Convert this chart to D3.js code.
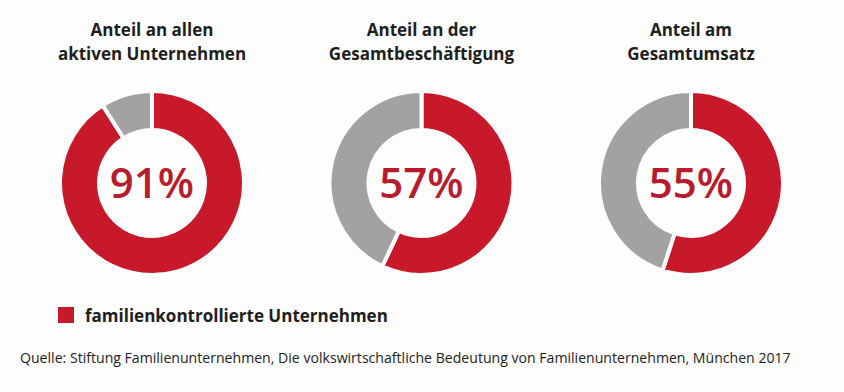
<!DOCTYPE html>
<html>
<head>
<meta charset="utf-8">
<script src="https://cdn.jsdelivr.net/npm/d3@7"></script>
<style>
  body { margin: 0; background: #fdfdfd; }
  svg { display: block; font-family: "Open Sans", "Noto Sans", sans-serif; }
</style>
</head>
<body>
<div id="chart"></div>
<script>
// data
const titles = [
  ['Anteil an allen', 'aktiven Unternehmen'],
  ['Anteil an der', 'Gesamtbeschäftigung'],
  ['Anteil am', 'Gesamtumsatz']
];
const familyShare = [91, 57, 55];
const legendLabel = 'familienkontrollierte Unternehmen';
const sourceText = 'Quelle: Stiftung Familienunternehmen, Die volkswirtschaftliche Bedeutung von Familienunternehmen, München 2017';

const width = 844, height = 392;
const red = '#c8192b', grey = '#a2a2a2', textRed = '#b81c2c';

const svg = d3.select('#chart')
  .append('svg')
  .attr('width', width)
  .attr('height', height);

const x = d3.scalePoint()
  .domain(d3.range(familyShare.length))
  .range([152, 691]);

const pie = d3.pie().sort(null).value(d => d);
const arc = d3.arc().innerRadius(53).outerRadius(92);

const donut = svg.selectAll('.donut')
  .data(familyShare)
  .enter()
  .append('g')
  .attr('class', 'donut')
  .attr('transform', (d, i) => `translate(${x(i)}, 183)`);

donut.selectAll('path')
  .data(d => pie([d, 100 - d]))
  .enter()
  .append('path')
  .attr('d', arc)
  .style('fill', (d, i) => i === 0 ? red : grey)
  .style('stroke', '#fdfdfd')
  .style('stroke-width', 4);

donut.append('text')
  .attr('text-anchor', 'middle')
  .attr('y', 15)
  .style('font-size', '42px')
  .style('font-weight', 600)
  .style('fill', textRed)
  .text(d => d + '%');

// titles
svg.selectAll('.title')
  .data(titles)
  .enter()
  .append('text')
  .attr('class', 'title')
  .attr('text-anchor', 'middle')
  .attr('x', (d, i) => x(i))
  .style('font-size', '17px')
  .style('font-weight', 700)
  .style('fill', '#1e1e1e')
  .selectAll('tspan')
  .data(d => d)
  .enter()
  .append('tspan')
  .attr('x', function () { return d3.select(this.parentNode).attr('x'); })
  .attr('y', (d, i) => 36 + i * 24)
  .text(d => d);

// legend
svg.append('rect')
  .attr('x', 58)
  .attr('y', 307)
  .attr('width', 16)
  .attr('height', 16)
  .style('fill', red);

svg.append('text')
  .attr('x', 85)
  .attr('y', 322)
  .style('font-size', '17px')
  .style('font-weight', 700)
  .style('fill', '#1e1e1e')
  .text(legendLabel);

svg.append('text')
  .attr('x', 20)
  .attr('y', 363)
  .style('font-size', '14.1px')
  .style('fill', '#222')
  .text(sourceText);
</script>
</body>
</html>
